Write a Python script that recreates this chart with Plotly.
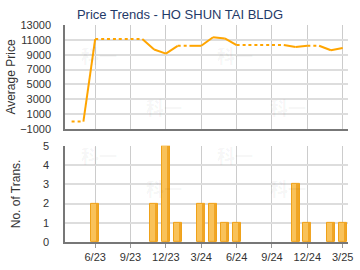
import plotly.graph_objects as go

months = ["4/23", "5/23", "6/23", "7/23", "8/23", "9/23", "10/23", "11/23", "12/23",
          "1/24", "2/24", "3/24", "4/24", "5/24", "6/24", "7/24", "8/24", "9/24",
          "10/24", "11/24", "12/24", "1/25", "2/25", "3/25"]
avg_price = [0, 0, 11100, 11100, 11100, 11100, 11100, 9700, 9150,
             10200, 10200, 10200, 11350, 11200, 10300, 10300, 10300, 10300,
             10300, 10050, 10200, 10200, 9600, 9900]
num_trans = [0, 0, 2, 0, 0, 0, 0, 2, 5,
             1, 0, 2, 2, 1, 1, 0, 0, 0,
             0, 3, 1, 0, 1, 1]
tick_labels = ["6/23", "9/23", "12/23", "3/24", "6/24", "9/24", "12/24", "3/25"]

idx = list(range(len(months)))
tick_idx = [months.index(t) for t in tick_labels]

# solid segment into months that have transactions, dotted otherwise
sx, sy, dx, dy = [], [], [], []
for i in range(1, len(months)):
    tx, ty = (sx, sy) if num_trans[i] > 0 else (dx, dy)
    tx += [idx[i - 1], idx[i], None]
    ty += [avg_price[i - 1], avg_price[i], None]

bar_x = [i for i, c in zip(idx, num_trans) if c > 0]
bar_y = [c for c in num_trans if c > 0]

ORANGE = "#FFA500"
fig = go.Figure()
fig.add_trace(go.Scatter(x=dx, y=dy, mode="lines", line=dict(color=ORANGE, width=2, dash="dot"),
                         xaxis="x", yaxis="y", hoverinfo="skip"))
fig.add_trace(go.Scatter(x=sx, y=sy, mode="lines", line=dict(color=ORANGE, width=2),
                         xaxis="x", yaxis="y", hoverinfo="skip"))
fig.add_trace(go.Bar(x=bar_x, y=bar_y, width=0.68,
                     marker=dict(color="#F9C25A", line=dict(color="#EFA21A", width=1)),
                     xaxis="x2", yaxis="y2"))
# darker right-hand shading strip of each bar
fig.add_trace(go.Bar(x=[i + 0.2 for i in bar_x], y=bar_y, width=0.16,
                     marker=dict(color="#F0A525", line=dict(width=0)),
                     xaxis="x2", yaxis="y2"))

FONT = "Liberation Sans, Arial, sans-serif"
xr = [-0.56, 23.45]
common_x = dict(range=xr, tickmode="array", tickvals=tick_idx, ticktext=tick_labels,
                showgrid=True, gridcolor="#CCCCCC", gridwidth=1, zeroline=False,
                showline=True, linecolor="#777777", linewidth=1.5)
fig.update_layout(
    width=360, height=270, margin=dict(l=65, r=7, t=25, b=26),
    paper_bgcolor="white", plot_bgcolor="white", showlegend=False,
    barmode="overlay", bargap=0,
    font=dict(family=FONT, size=11, color="#333333"),
    title=dict(text="Price Trends - HO SHUN TAI BLDG", x=0.5, xanchor="center",
               y=0.945, yanchor="middle", font=dict(family=FONT, size=13, color="#1F3A68")),
    xaxis=dict(domain=[0, 1], anchor="y", showticklabels=False, ticks="", **common_x),
    xaxis2=dict(domain=[0, 1], anchor="y2", ticks="outside", ticklen=4, tickcolor="#999999",
                tickfont=dict(size=11, color="#333333"), **common_x),
    yaxis=dict(domain=[0.5205, 1], range=[-1000, 13000], tick0=-1000, dtick=2000,
               tickformat="d",
               showgrid=True, gridcolor="#DDDDDD", gridwidth=2, zeroline=False,
               showline=True, linecolor="#777777", linewidth=1.5,
               ticks="outside", ticklen=10, tickcolor="white",
               title=dict(text="Average Price", font=dict(size=12, color="#333333"), standoff=2)),
    yaxis2=dict(domain=[0, 0.443], range=[0, 5], dtick=1,
                showgrid=True, gridcolor="#DDDDDD", gridwidth=2, zeroline=False,
                showline=True, linecolor="#777777", linewidth=1.5,
                ticks="outside", ticklen=12, tickcolor="white",
                title=dict(text="No. of Trans.", font=dict(size=12, color="#333333"), standoff=20)),
)

# faint watermarks
for (xp, yp) in [(0.05, 0.93), (0.6, 0.93), (0.28, 0.62), (0.86, 0.62),
                 (0.05, 0.40), (0.6, 0.40), (0.28, 0.18), (0.86, 0.18)]:
    fig.add_annotation(x=xp, y=yp, xref="paper", yref="paper", text="<b>科一</b>",
                       showarrow=False, font=dict(family="Noto Sans CJK SC", size=18,
                                                  color="rgba(0,0,0,0.05)"))

fig.write_html("out.html")
